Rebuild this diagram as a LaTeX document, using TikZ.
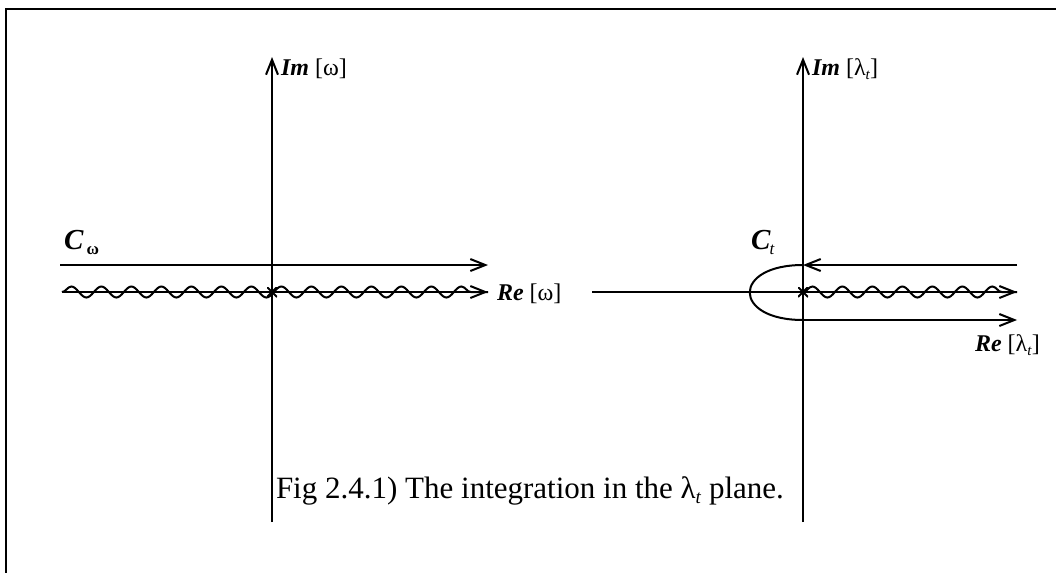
\documentclass[tikz,border=0pt]{standalone}
\usepackage{fontspec}
\setmainfont{Liberation Serif}
\usetikzlibrary{arrows.meta, decorations.pathmorphing}

\begin{document}
\begin{tikzpicture}[x=1pt,y=-1pt,
    line width=2pt,
    tip/.style={-{Straight Barb[length=15pt,width=12pt,line width=2pt]}},
    wave/.style={decorate, decoration={snake, segment length=30pt, amplitude=5.5pt, post length=6pt}},
    lbl/.style={inner sep=1pt, font=\fontsize{24}{27}\selectfont},
    cross/.style={inner sep=0pt, minimum size=10pt, path picture={
        \draw[line width=1.8pt] (path picture bounding box.north west) -- (path picture bounding box.south east)
            (path picture bounding box.north east) -- (path picture bounding box.south west);}}]
\useasboundingbox (0,0) rectangle (1056,573);
\draw[line width=2.5pt] (1056,9) -- (6,9) -- (6,573);
% omega plane
\coordinate (wB) at (272,522);
\coordinate (wT) at (272,57);
\coordinate (wL) at (62,292);
\coordinate (wR) at (488,292);
\coordinate (cL) at (60,265);
\coordinate (cR) at (488,265);
\node[cross] (w0) at (272,292) {};
\draw[tip] (wB) -- (wT);
\draw[tip] (wL) -- (wR);
\draw[wave] (wL) -- (wR);
\draw[tip] (cL) -- (cR);
\node[lbl, anchor=west] (wIm) at (279,69) {\textbf{\textit{Im}} [ω]};
\node[lbl, anchor=west] (wRe) at (495,294) {\textbf{\textit{Re}} [ω]};
\node[lbl, anchor=west] (Cw) at (62,242) {\fontsize{29}{29}\selectfont\textbf{\textit{C}}\kern3pt\raisebox{-5pt}{\fontsize{17}{17}\selectfont\textbf{ω}}};
% lambda plane
\coordinate (lB) at (803,522);
\coordinate (lT) at (803,57);
\coordinate (lL) at (592,292);
\coordinate (lR) at (1017,292);
\coordinate (tR) at (1017,265);
\coordinate (tL) at (803,265);
\coordinate (bL) at (803,320);
\coordinate (bR) at (1017,320);
\node[cross] (l0) at (803,292) {};
\draw[tip] (lB) -- (lT);
\draw[tip] (lL) -- (lR);
\draw[wave] (l0.center) -- (lR);
\draw[tip] (tR) -- (tL);
\draw (tL) .. controls (732,265) and (732,320) .. (bL);
\draw[tip] (bL) -- (bR);
\node[lbl, anchor=west] (lIm) at (810,69) {\textbf{\textit{Im}} [λ\raisebox{-4pt}{\fontsize{15}{15}\selectfont\textit{t}}]};
\node[lbl, anchor=west] (lRe) at (973,345) {\textbf{\textit{Re}} [λ\raisebox{-4pt}{\fontsize{15}{15}\selectfont\textit{t}}]};
\node[lbl, anchor=west] (Ct) at (749,242) {\fontsize{29}{29}\selectfont\textbf{\textit{C}}\kern-1pt\raisebox{-5pt}{\fontsize{17}{17}\selectfont\textit{t}}};
\node[lbl, anchor=west, font=\fontsize{31}{34}\selectfont] (cap) at (274,491) {Fig 2.4.1) The integration in the λ\raisebox{-5pt}{\fontsize{19}{19}\selectfont\textit{t}} plane.};
\end{tikzpicture}
\end{document}
